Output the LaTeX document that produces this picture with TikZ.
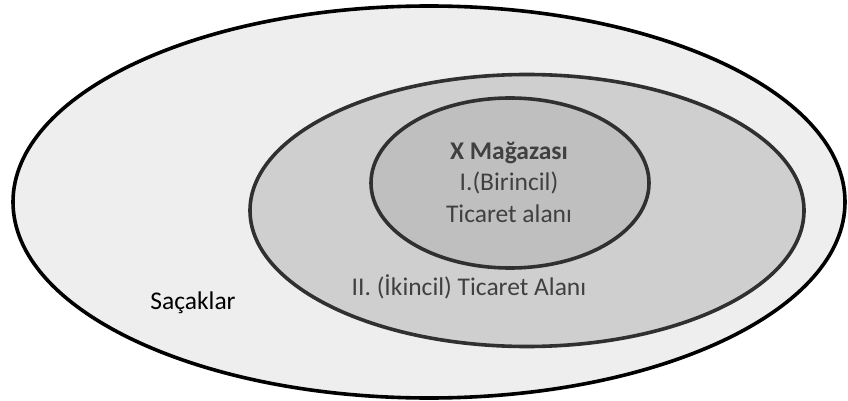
\documentclass[tikz,border=0pt]{standalone}
\usepackage{fontspec}
\setmainfont{Carlito}
\usepackage{xcolor}
\usepackage{tikz}
\definecolor{fringefill}{HTML}{EEEEEE}
\definecolor{secondfill}{HTML}{CFCFCF}
\definecolor{firstfill}{HTML}{BFBFBF}
\definecolor{ringline}{HTML}{303030}
\definecolor{labeltext}{HTML}{404040}

\begin{document}
\begin{tikzpicture}[x=1pt, y=-1pt,
    zone/.style={line width=3.6pt, draw=ringline},
    lbl/.style={font=\fontsize{25.5}{31.5}\selectfont, text=labeltext, inner sep=0pt}]
  \useasboundingbox (0,0) rectangle (848,401);
  \filldraw[zone, fill=fringefill, draw=black] (429,202) ellipse [x radius=416pt, y radius=196pt];
  \filldraw[zone, fill=secondfill] (527,210.5) ellipse [x radius=277pt, y radius=136pt];
  \filldraw[zone, fill=firstfill] (510,183) ellipse [x radius=139pt, y radius=85pt];
  \node[lbl, align=center] (store) at (509,182) {\textbf{X Mağazası}\\I.(Birincil)\\Ticaret alanı};
  \node[lbl] (second) at (469,287) {II. (İkincil) Ticaret Alanı};
  \node[lbl, text=black] (fringe) at (193,303) {Saçaklar};
\end{tikzpicture}
\end{document}
